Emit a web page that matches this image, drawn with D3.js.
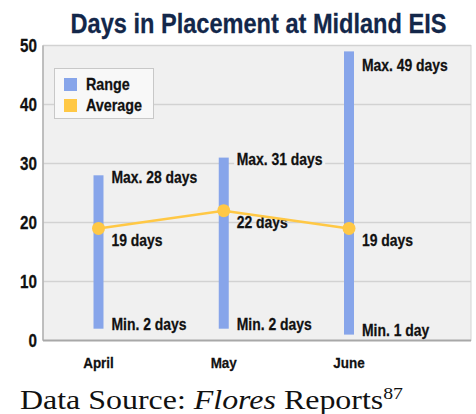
<!DOCTYPE html>
<html lang="en">
  <head>
    <meta charset="UTF-8" />
    <title>Days in Placement</title>
    <style>
      body { margin: 0; background: #fff; }
      .lbl { font-family: "Liberation Sans", Arial, sans-serif; font-weight: bold; fill: #111; stroke: #111; stroke-width: 0.25px; }
    </style>
  </head>
  <body>
    <script src="https://cdn.jsdelivr.net/npm/d3@7"></script>
    <script>
      // data
      let months = ["April", "May", "June"];
      let minDays = [2, 2, 1];
      let maxDays = [28, 31, 49];
      let avgDays = [19, 22, 19];
      let yTicks = [0, 10, 20, 30, 40, 50];

      let width = 476, height = 414;
      let plotL = 43, plotR = 471, plotT = 45.5, plotB = 340.5;

      let svg = d3.select("body").append("svg")
        .attr("width", width)
        .attr("height", height);

      let x = d3.scalePoint().domain(months).range([98.5, 349]);
      let y = d3.scaleLinear().domain([0, 50]).range([plotB, plotT]);

      // condensed-looking text: squeeze a bold sans horizontally
      function ctext(parent, tx, ty, txt, size, anchor) {
        let g = parent.append("g")
          .attr("transform", "translate(" + tx + "," + ty + ") scale(0.87,1)");
        g.append("text")
          .attr("class", "lbl")
          .attr("text-anchor", anchor || "start")
          .attr("dy", "0.36em")
          .style("font-size", size + "px")
          .text(txt);
        return g;
      }

      // plot background
      svg.append("rect")
        .attr("x", plotL).attr("y", plotT)
        .attr("width", plotR - plotL).attr("height", plotB - plotT)
        .attr("fill", "#f0f0f0")
        .attr("stroke", "#d4d4d4");

      // gridlines
      svg.selectAll(".grid")
        .data(yTicks.filter(d => d > 0))
        .enter().append("line")
        .attr("x1", plotL).attr("x2", plotR)
        .attr("y1", d => y(d)).attr("y2", d => y(d))
        .attr("stroke", "#d2d2d2")
        .attr("stroke-width", 1.5);

      // axis lines
      svg.append("line")
        .attr("x1", plotL).attr("x2", plotL).attr("y1", plotT).attr("y2", plotB)
        .attr("stroke", "#b0b0b0").attr("stroke-width", 1.5);
      svg.append("line")
        .attr("x1", plotL).attr("x2", plotR).attr("y1", plotB).attr("y2", plotB)
        .attr("stroke", "#a8a8a8").attr("stroke-width", 2);

      // y tick labels
      yTicks.forEach(d => ctext(svg, 37, y(d), d, 17.5, "end"));

      // x labels
      months.forEach(m => ctext(svg, x(m), 362, m, 15.5, "middle"));

      let rows = months.map((m, i) => ({ m: m, lo: minDays[i], hi: maxDays[i], avg: avgDays[i] }));

      // range bars
      svg.selectAll(".bar")
        .data(rows)
        .enter().append("rect")
        .attr("x", d => x(d.m) - 5)
        .attr("width", 10)
        .attr("y", d => y(d.hi))
        .attr("height", d => y(d.lo) - y(d.hi))
        .attr("fill", "#87a5ea");

      // data labels, optionally with a background patch over the gridlines
      function label(txt, lx, ly, bg) {
        let g = ctext(svg, lx, ly, txt, 16);
        if (bg) {
          let b = g.select("text").node().getBBox();
          g.insert("rect", "text")
            .attr("x", b.x - 3).attr("y", b.y + 1)
            .attr("width", b.width + 6).attr("height", b.height - 2)
            .attr("fill", "#f0f0f0");
        }
      }

      rows.forEach(d => {
        label("Max. " + d.hi + " days", x(d.m) + 13, Math.max(y(d.hi) + 2, plotT + 20), true);
        label("Min. " + d.lo + (d.lo == 1 ? " day" : " days"), x(d.m) + 13, y(d.lo) - 4, true);
        label(d.avg + " days", x(d.m) + 13, y(d.avg) + 12, false);
      });

      // average line
      let line = d3.line().x(d => x(d.m)).y(d => y(d.avg));
      svg.append("path")
        .datum(rows)
        .attr("d", line)
        .attr("fill", "none")
        .attr("stroke", "#ffc845")
        .attr("stroke-width", 2.5);

      svg.selectAll(".dot")
        .data(rows)
        .enter().append("circle")
        .attr("cx", d => x(d.m))
        .attr("cy", d => y(d.avg))
        .attr("r", 6.5)
        .attr("fill", "#ffc845");

      // legend
      let lg = svg.append("g");
      lg.append("rect")
        .attr("x", 54.5).attr("y", 68.5)
        .attr("width", 99).attr("height", 50)
        .attr("fill", "#f8f8f8")
        .attr("stroke", "#c8c8c8");
      let items = [["Range", "#87a5ea"], ["Average", "#ffc845"]];
      items.forEach((it, i) => {
        lg.append("rect")
          .attr("x", 64).attr("y", 78 + i * 21)
          .attr("width", 13).attr("height", 13)
          .attr("fill", it[1]);
        ctext(lg, 86, 84.5 + i * 21, it[0], 16.5);
      });

      // title, squeezed to the reference width
      let tg = svg.append("g");
      let title = tg.append("text")
        .attr("text-anchor", "middle")
        .attr("class", "lbl")
        .style("fill", "#13274a")
        .style("stroke", "#13274a")
        .style("font-size", "28px")
        .text("Days in Placement at Midland EIS");
      let tw = title.node().getBBox().width;
      tg.attr("transform", "translate(258.5,33) scale(" + (376 / tw) + ",1)");

      // source line
      let src = svg.append("text")
        .attr("x", 20).attr("y", 409)
        .attr("textLength", 383)
        .attr("lengthAdjust", "spacingAndGlyphs")
        .style("font-family", "'Liberation Serif', 'DejaVu Serif', serif")
        .style("font-size", "27.5px")
        .style("fill", "#111");
      src.append("tspan").text("Data Source: ");
      src.append("tspan").style("font-style", "italic").text("Flores");
      src.append("tspan").text(" Reports");
      src.append("tspan").attr("dy", -10).style("font-size", "17px").text("87");
    </script>
  </body>
</html>
